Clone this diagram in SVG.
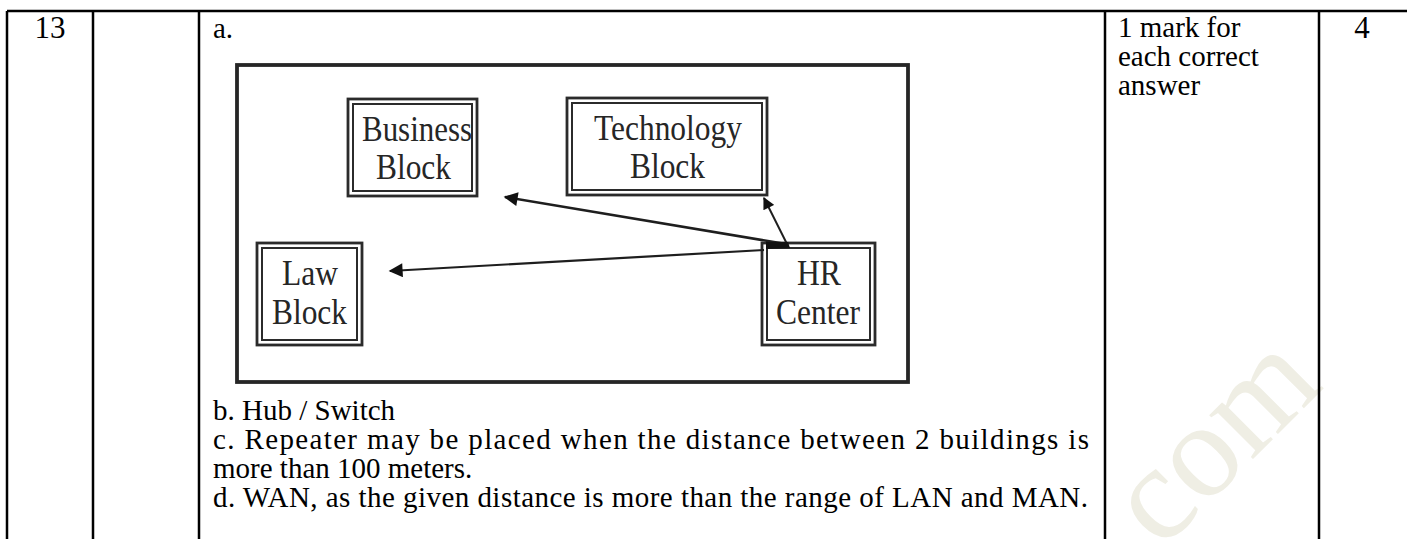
<svg xmlns="http://www.w3.org/2000/svg" width="1407" height="539" viewBox="0 0 1407 539">
<style>
  .body { font-family: "Liberation Serif", "Times New Roman", serif; font-size: 29px; fill: #000; }
  .num { font-family: "Liberation Serif", "Times New Roman", serif; font-size: 31px; fill: #000; text-anchor: middle; }
  .blk { font-family: "Liberation Serif", "Times New Roman", serif; font-size: 35px; fill: #262626; }
  .grid { stroke: #000; stroke-width: 2.5; fill: none; }
  .outerbox { fill: #fff; stroke: #262626; stroke-width: 3.8; }
  .b1 { fill: #fff; stroke: #2b2b2b; stroke-width: 2.8; }
  .b2 { fill: none; stroke: #2b2b2b; stroke-width: 2; }
  .conn { stroke: #1e1e1e; fill: none; }
  .wm { font-family: "Liberation Serif", "Times New Roman", serif; font-size: 135px; fill: #efeee4; }
</style>
<defs>
  <marker id="arr" viewBox="0 0 10 10" refX="9" refY="5" markerWidth="18" markerHeight="14" markerUnits="userSpaceOnUse" orient="auto">
    <path d="M0,0 L10,5 L0,10 Z" fill="#111"/>
  </marker>
  <marker id="arrS" viewBox="0 0 10 10" refX="9" refY="5" markerWidth="15" markerHeight="12" markerUnits="userSpaceOnUse" orient="auto">
    <path d="M0,0 L10,5 L0,10 Z" fill="#111"/>
  </marker>
</defs>
<rect x="0" y="0" width="1407" height="539" fill="#fff"/>

<!-- watermark -->
<text class="wm" transform="translate(1161,551) rotate(-45)">com</text>

<!-- table grid -->
<g id="table">
  <line class="grid" x1="7" y1="11" x2="1407" y2="11"/>
  <line class="grid" x1="7" y1="11" x2="7" y2="539"/>
  <line class="grid" x1="93" y1="11" x2="93" y2="539"/>
  <line class="grid" x1="199" y1="11" x2="199" y2="539"/>
  <line class="grid" x1="1105" y1="11" x2="1105" y2="539"/>
  <line class="grid" x1="1319" y1="11" x2="1319" y2="539"/>
</g>

<g id="cells">
  <text class="num" x="50" y="38">13</text>
  <text class="body" x="213" y="38">a.</text>
  <text class="num" x="1362" y="38">4</text>
  <text class="body" x="1118" y="37">1 mark for</text>
  <text class="body" x="1118" y="66">each correct</text>
  <text class="body" x="1118" y="95">answer</text>
  <text class="body" x="213" y="420">b. Hub / Switch</text>
  <text class="body" x="213" y="449" textLength="876" lengthAdjust="spacing">c. Repeater may be placed when the distance between 2 buildings is</text>
  <text class="body" x="213" y="478">more than 100 meters.</text>
  <text class="body" x="213" y="507" textLength="875" lengthAdjust="spacing">d. WAN, as the given distance is more than the range of LAN and MAN.</text>
</g>

<!-- diagram frame -->
<g id="frame">
  <rect class="outerbox" x="237" y="65" width="671" height="317"/>
</g>

<g id="business">
  <rect class="b1" x="348" y="99" width="129" height="97"/>
  <rect class="b2" x="353" y="104" width="119" height="87"/>
  <text class="blk" x="362" y="141" textLength="110" lengthAdjust="spacingAndGlyphs">Business</text>
  <text class="blk" x="376" y="179" textLength="75" lengthAdjust="spacingAndGlyphs">Block</text>
</g>

<g id="technology">
  <rect class="b1" x="567" y="98" width="200" height="97"/>
  <rect class="b2" x="572" y="103" width="190" height="87"/>
  <text class="blk" x="594" y="140" textLength="148" lengthAdjust="spacingAndGlyphs">Technology</text>
  <text class="blk" x="630" y="178" textLength="75" lengthAdjust="spacingAndGlyphs">Block</text>
</g>

<g id="law">
  <rect class="b1" x="257" y="243" width="105" height="102"/>
  <rect class="b2" x="262" y="248" width="95" height="92"/>
  <text class="blk" x="282" y="285" textLength="56" lengthAdjust="spacingAndGlyphs">Law</text>
  <text class="blk" x="272" y="324" textLength="75" lengthAdjust="spacingAndGlyphs">Block</text>
</g>

<g id="hr">
  <rect class="b1" x="762" y="243" width="113" height="102"/>
  <rect class="b2" x="767" y="248" width="103" height="92"/>
  <text class="blk" x="797" y="285" textLength="44" lengthAdjust="spacingAndGlyphs">HR</text>
  <text class="blk" x="776" y="324" textLength="84" lengthAdjust="spacingAndGlyphs">Center</text>
</g>

<g id="connectors">
  <line class="conn" x1="786" y1="244" x2="505" y2="197" stroke-width="2.6" marker-end="url(#arr)"/>
  <line class="conn" x1="787" y1="244" x2="764" y2="198" stroke-width="2" marker-end="url(#arrS)"/>
  <line class="conn" x1="764" y1="250" x2="390" y2="271" stroke-width="2.2" marker-end="url(#arr)"/>
  <path d="M766,242 L788,242 L790,248 L766,249 Z" fill="#111"/>
</g>
</svg>
